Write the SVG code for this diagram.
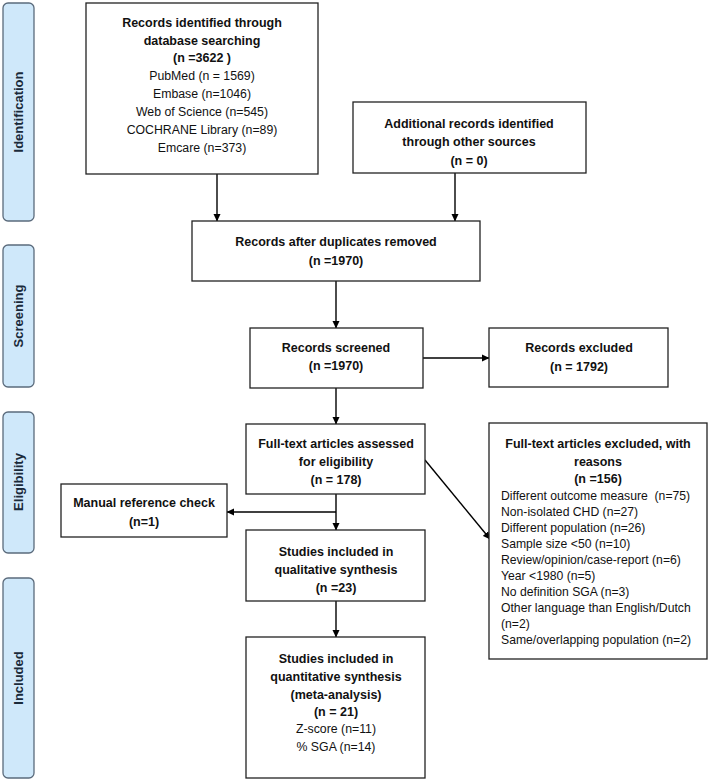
<svg xmlns="http://www.w3.org/2000/svg" width="709" height="782" viewBox="0 0 709 782">
<defs>
<marker id="ah" markerWidth="8" markerHeight="8" refX="7" refY="4" orient="auto" markerUnits="userSpaceOnUse">
<path d="M0,0.5 L7.5,4 L0,7.5 Z" fill="#000"/>
</marker>
<style>
.box{fill:#fff;stroke:#222;stroke-width:1.3}
.side{fill:#cfe8fa;stroke:#5b6b7c;stroke-width:1.3}
.b{font-family:"Liberation Sans",Arial,sans-serif;font-size:12.5px;font-weight:bold;fill:#111;text-anchor:middle}
.r{font-family:"Liberation Sans",Arial,sans-serif;font-size:12.3px;fill:#111;text-anchor:middle}
.l{font-family:"Liberation Sans",Arial,sans-serif;font-size:12.2px;fill:#111;text-anchor:start}
.s{font-family:"Liberation Sans",Arial,sans-serif;font-size:13px;font-weight:bold;fill:#1a2a3a;text-anchor:middle}
.c{fill:none;stroke:#000;stroke-width:1.4}
</style>
</defs>
<rect width="709" height="782" fill="#fff"/>

<g id="side-identification"><rect class="side" x="3" y="3" width="31" height="218" rx="5"/><text class="s" transform="translate(23,112) rotate(-90)">Identification</text></g>
<g id="side-screening"><rect class="side" x="3" y="245" width="31" height="142" rx="5"/><text class="s" transform="translate(23,316) rotate(-90)">Screening</text></g>
<g id="side-eligibility"><rect class="side" x="3" y="412" width="31" height="141" rx="5"/><text class="s" transform="translate(23,482) rotate(-90)">Eligibility</text></g>
<g id="side-included"><rect class="side" x="3" y="578" width="31" height="200" rx="5"/><text class="s" transform="translate(23,678) rotate(-90)">Included</text></g>

<g id="connectors">
<line class="c" x1="217" y1="174" x2="217" y2="221" marker-end="url(#ah)"/>
<line class="c" x1="455" y1="173" x2="455" y2="221" marker-end="url(#ah)"/>
<line class="c" x1="336" y1="281" x2="336" y2="328" marker-end="url(#ah)"/>
<line class="c" x1="423" y1="358" x2="489" y2="358" marker-end="url(#ah)"/>
<line class="c" x1="336" y1="388" x2="336" y2="424" marker-end="url(#ah)"/>
<line class="c" x1="336" y1="494" x2="336" y2="530" marker-end="url(#ah)"/>
<line class="c" x1="336" y1="512" x2="227" y2="512" marker-end="url(#ah)"/>
<line class="c" x1="336" y1="601" x2="336" y2="637" marker-end="url(#ah)"/>
<line class="c" x1="425" y1="460" x2="490" y2="539" marker-end="url(#ah)"/>
</g>

<g id="n-database">
<rect class="box" x="86" y="3" width="232" height="171"/>
<text class="b" x="202" y="27">Records identified through</text>
<text class="b" x="202" y="45">database searching</text>
<text class="b" x="202" y="62">(n =3622 )</text>
<text class="r" x="202" y="80">PubMed (n = 1569)</text>
<text class="r" x="202" y="98">Embase (n=1046)</text>
<text class="r" x="202" y="116">Web of Science (n=545)</text>
<text class="r" x="202" y="134">COCHRANE Library (n=89)</text>
<text class="r" x="202" y="152">Emcare (n=373)</text>
</g>

<g id="n-additional">
<rect class="box" x="353" y="102" width="233" height="71"/>
<text class="b" x="469" y="128">Additional records identified</text>
<text class="b" x="469" y="146">through other sources</text>
<text class="b" x="469" y="165">(n = 0)</text>
</g>

<g id="n-duplicates">
<rect class="box" x="192" y="221" width="288" height="60"/>
<text class="b" x="336" y="246">Records after duplicates removed</text>
<text class="b" x="336" y="265">(n =1970)</text>
</g>

<g id="n-screened">
<rect class="box" x="250" y="328" width="173" height="60"/>
<text class="b" x="336" y="352">Records screened</text>
<text class="b" x="336" y="370">(n =1970)</text>
</g>

<g id="n-excluded">
<rect class="box" x="489" y="328" width="179" height="59"/>
<text class="b" x="579" y="352">Records excluded</text>
<text class="b" x="579" y="371">(n = 1792)</text>
</g>

<g id="n-fulltext">
<rect class="box" x="246" y="424" width="179" height="70"/>
<text class="b" x="336" y="448">Full-text articles assessed</text>
<text class="b" x="336" y="466">for eligibility</text>
<text class="b" x="336" y="484">(n = 178)</text>
</g>

<g id="n-manual">
<rect class="box" x="61" y="484" width="166" height="53"/>
<text class="b" x="144" y="507">Manual reference check</text>
<text class="b" x="144" y="526">(n=1)</text>
</g>

<g id="n-fulltext-excluded">
<rect class="box" x="489" y="423" width="218" height="236"/>
<text class="b" x="598" y="448">Full-text articles excluded, with</text>
<text class="b" x="598" y="466">reasons</text>
<text class="b" x="598" y="483">(n =156)</text>
<text class="l" x="501" y="500">Different outcome measure &#160;(n=75)</text>
<text class="l" x="501" y="516">Non-isolated CHD (n=27)</text>
<text class="l" x="501" y="532">Different population (n=26)</text>
<text class="l" x="501" y="548">Sample size &lt;50 (n=10)</text>
<text class="l" x="501" y="564">Review/opinion/case-report (n=6)</text>
<text class="l" x="501" y="580">Year &lt;1980 (n=5)</text>
<text class="l" x="501" y="596">No definition SGA (n=3)</text>
<text class="l" x="501" y="612">Other language than English/Dutch</text>
<text class="l" x="501" y="628">(n=2)</text>
<text class="l" x="501" y="644">Same/overlapping population (n=2)</text>
</g>

<g id="n-qualitative">
<rect class="box" x="246" y="530" width="179" height="71"/>
<text class="b" x="336" y="556">Studies included in</text>
<text class="b" x="336" y="574">qualitative synthesis</text>
<text class="b" x="336" y="592">(n =23)</text>
</g>

<g id="n-quantitative">
<rect class="box" x="246" y="637" width="179" height="141"/>
<text class="b" x="336" y="663">Studies included in</text>
<text class="b" x="336" y="681">quantitative synthesis</text>
<text class="b" x="336" y="699">(meta-analysis)</text>
<text class="b" x="336" y="716">(n = 21)</text>
<text class="r" x="336" y="733">Z-score (n=11)</text>
<text class="r" x="336" y="751">% SGA (n=14)</text>
</g>
</svg>
